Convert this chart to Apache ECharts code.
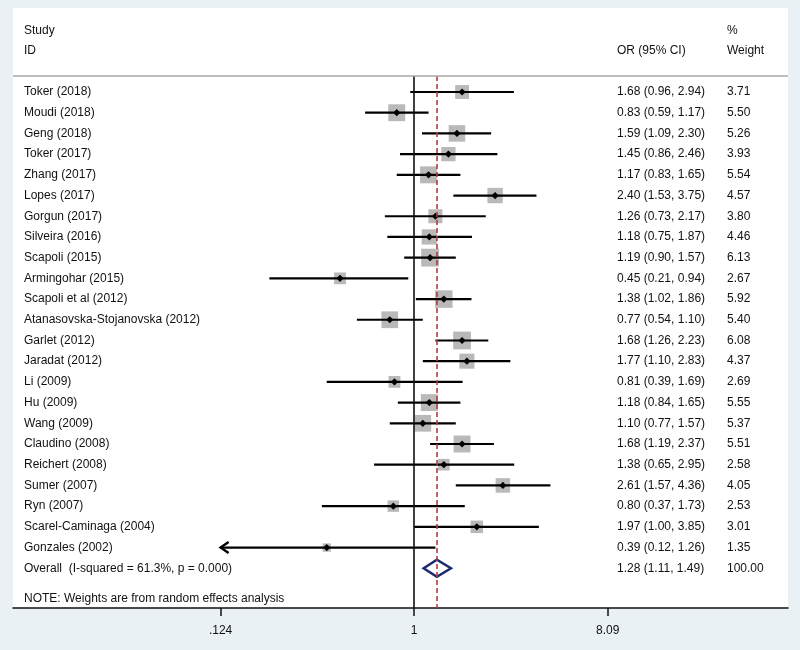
<!DOCTYPE html>
<html>
<head>
<meta charset="utf-8">
<script src="https://cdn.jsdelivr.net/npm/echarts@6/dist/echarts.min.js"></script>
<style>html,body{margin:0;padding:0;background:#e9f1f4;}#c{width:800px;height:650px;}</style>
</head>
<body>
<div id="c"></div>
<script>
// ---- data ----
const studies = ['Toker (2018)','Moudi (2018)','Geng (2018)','Toker (2017)','Zhang (2017)','Lopes (2017)','Gorgun (2017)','Silveira (2016)','Scapoli (2015)','Armingohar (2015)','Scapoli et al (2012)','Atanasovska-Stojanovska (2012)','Garlet (2012)','Jaradat (2012)','Li (2009)','Hu (2009)','Wang (2009)','Claudino (2008)','Reichert (2008)','Sumer (2007)','Ryn (2007)','Scarel-Caminaga (2004)','Gonzales (2002)'];
const orVals = [1.68,0.83,1.59,1.45,1.17,2.40,1.26,1.18,1.19,0.45,1.38,0.77,1.68,1.77,0.81,1.18,1.10,1.68,1.38,2.61,0.80,1.97,0.39];
const loVals = [0.96,0.59,1.09,0.86,0.83,1.53,0.73,0.75,0.90,0.21,1.02,0.54,1.26,1.10,0.39,0.84,0.77,1.19,0.65,1.57,0.37,1.00,0.12];
const hiVals = [2.94,1.17,2.30,2.46,1.65,3.75,2.17,1.87,1.57,0.94,1.86,1.10,2.23,2.83,1.69,1.65,1.57,2.37,2.95,4.36,1.73,3.85,1.26];
const weights = [3.71,5.50,5.26,3.93,5.54,4.57,3.80,4.46,6.13,2.67,5.92,5.40,6.08,4.37,2.69,5.55,5.37,5.51,2.58,4.05,2.53,3.01,1.35];
const overallLabel = 'Overall  (I-squared = 61.3%, p = 0.000)';
const overallOR = 1.28, overallLo = 1.11, overallHi = 1.49, overallW = 100.00;
const tickVals = [0.124, 1, 8.09];
const tickLabels = ['.124', '1', '8.09'];
const noteText = 'NOTE: Weights are from random effects analysis';

// ---- derived ----
const rowNames = studies.concat([overallLabel]);
const rowCI = orVals.map((v,i)=>v.toFixed(2)+' ('+loVals[i].toFixed(2)+', '+hiVals[i].toFixed(2)+')')
  .concat([overallOR.toFixed(2)+' ('+overallLo.toFixed(2)+', '+overallHi.toFixed(2)+')']);
const rowW = weights.map(w=>w.toFixed(2)).concat([overallW.toFixed(2)]);
const rowIdx = rowNames.map((_,i)=>i+1);
const studyData = studies.map((s,i)=>[i+1, orVals[i], loVals[i], hiVals[i], weights[i]]);
const overallData = [[studies.length+1, overallOR, overallLo, overallHi]];

const FONT = '"Liberation Sans", Arial, sans-serif';
const TXT = '#111111';
const rowLabel = (arr)=> (v)=>{ const k=Math.round(v)-1; return arr[k]!==undefined?arr[k]:''; };

function yAx(pos, margin, arr){
  return {
    type:'value', inverse:true, min:0.227, max:25.92, position:pos,
    axisLine:{show:false}, axisTick:{show:false}, splitLine:{show:false},
    axisLabel:{inside:true, margin:margin, align:'left', customValues:rowIdx,
      formatter:rowLabel(arr), fontSize:12, color:TXT, fontFamily:FONT}
  };
}

const chart = echarts.init(document.getElementById('c'), null, {renderer:'canvas'});
chart.setOption({
  backgroundColor:'#e9f1f4',
  animation:false,
  graphic:[
    {type:'rect', z:-100, shape:{x:13,y:8,width:775,height:600}, style:{fill:'#ffffff'}},
    {type:'line', z:10, shape:{x1:13,y1:76,x2:788,y2:76}, style:{stroke:'#a8a8a8',lineWidth:1.5}},
    {type:'text', x:24, y:30.7, style:{text:'Study', fill:TXT, font:'12px '+FONT, textVerticalAlign:'middle'}},
    {type:'text', x:24, y:50.7, style:{text:'ID', fill:TXT, font:'12px '+FONT, textVerticalAlign:'middle'}},
    {type:'text', x:617, y:50.7, style:{text:'OR (95% CI)', fill:TXT, font:'12px '+FONT, textVerticalAlign:'middle'}},
    {type:'text', x:727, y:30.7, style:{text:'%', fill:TXT, font:'12px '+FONT, textVerticalAlign:'middle'}},
    {type:'text', x:727, y:50.7, style:{text:'Weight', fill:TXT, font:'12px '+FONT, textVerticalAlign:'middle'}},
    {type:'text', x:24, y:599, style:{text:noteText, fill:TXT, font:'12px '+FONT, textVerticalAlign:'middle'}}
  ],
  grid:{left:13, right:12, top:76, bottom:42, containLabel:false},
  xAxis:{
    type:'log', min:0.01319, max:56.66,
    axisLine:{show:true, lineStyle:{color:'#111', width:1.5}},
    axisTick:{show:true, customValues:tickVals, length:8, lineStyle:{color:'#111', width:1.5}},
    axisLabel:{customValues:tickVals, margin:17, fontSize:12, color:TXT, fontFamily:FONT,
      formatter:(v)=>{ let b=0,d=Infinity; tickVals.forEach((t,i)=>{const e=Math.abs(Math.log(t)-Math.log(v)); if(e<d){d=e;b=i;}}); return tickLabels[b]; }},
    splitLine:{show:false}, minorTick:{show:false}
  },
  yAxis:[ yAx('left', 11, rowNames), yAx('right', 171, rowCI), yAx('right', 61, rowW) ],
  series:[
    {
      type:'custom', z:2, data:studyData, encode:{x:[1,2,3], y:0}, clip:false,
      renderItem:(params, api)=>{
        const row=api.value(0), or=api.value(1), lo=api.value(2), hi=api.value(3), w=api.value(4);
        const c=api.coord([or,row]);
        const clipLo=Math.max(lo, tickVals[0]);
        const pL=api.coord([clipLo,row]), pH=api.coord([hi,row]);
        const s=7.2*Math.sqrt(w);
        const kids=[
          {type:'rect', shape:{x:c[0]-s/2,y:c[1]-s/2,width:s,height:s}, style:{fill:'#b9b9b9'}},
          {type:'line', shape:{x1:pL[0],y1:pL[1],x2:pH[0],y2:pH[1]}, style:{stroke:'#000',lineWidth:2.2}},
          {type:'polygon', shape:{points:[[c[0]-3.6,c[1]],[c[0],c[1]-3.6],[c[0]+3.6,c[1]],[c[0],c[1]+3.6]]}, style:{fill:'#000'}}
        ];
        if(lo<tickVals[0]){
          kids.push({type:'polyline', shape:{points:[[pL[0]+8,pL[1]-5.5],[pL[0],pL[1]],[pL[0]+8,pL[1]+5.5]]}, style:{stroke:'#000',lineWidth:2.4,fill:null}});
        }
        return {type:'group', children:kids};
      }
    },
    {
      type:'custom', z:3, data:overallData, encode:{x:[1,2,3], y:0}, clip:false,
      renderItem:(params, api)=>{
        const row=api.value(0);
        const c=api.coord([api.value(1),row]), pL=api.coord([api.value(2),row]), pH=api.coord([api.value(3),row]);
        const h=8.5;
        return {type:'polygon', shape:{points:[[pL[0],c[1]],[c[0],c[1]-h],[pH[0],c[1]],[c[0],c[1]+h]]},
          style:{fill:'none', stroke:'#1c2a6e', lineWidth:2.5}};
      },
      markLine:{
        silent:true, symbol:'none', label:{show:false}, animation:false,
        data:[
          {xAxis:1, lineStyle:{color:'#111', width:1.6, type:'solid'}},
          {xAxis:overallOR, lineStyle:{color:'#b8393b', width:1.6, type:[5,3]}}
        ]
      }
    }
  ]
});
</script>
</body>
</html>
